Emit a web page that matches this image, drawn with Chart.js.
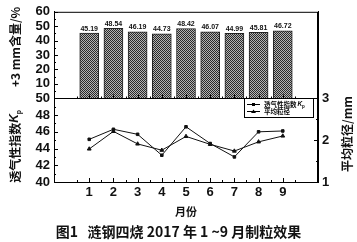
<!DOCTYPE html>
<html>
<head>
<meta charset="utf-8">
<script src="https://cdn.jsdelivr.net/npm/chart.js@4"></script>
<style>
  body { margin: 0; background: #fff; }
  #wrap { position: relative; width: 357px; height: 242px; }
  #caption { position: absolute; left: 0; top: 221px; width: 357px; text-align: center;
    font: bold 14px "Noto Sans CJK SC"; color: #111; white-space: pre; }
</style>
</head>
<body>
<div id="wrap">
  <canvas id="plot" width="357" height="242"></canvas>
  <div id="caption">图1   涟钢四烧 2017 年 1 ~9 月制粒效果</div>
</div>
<script>
// data
const months = [1, 2, 3, 4, 5, 6, 7, 8, 9];
const content = [45.19, 48.54, 46.19, 44.73, 48.42, 46.07, 44.99, 45.81, 46.72];   // +3 mm含量/%
const kp = [45.1, 46.3, 45.7, 43.2, 46.6, 44.6, 43.0, 46.0, 46.1];                  // 透气性指数
const grain = [1.79, 2.21, 1.91, 1.76, 2.09, 1.90, 1.74, 1.96, 2.10];               // 平均粒径/mm

const tickFont = { family: 'Liberation Sans', size: 13, weight: 'bold' };
const cjk = '"Noto Sans CJK SC"';

// dithered fill like the printed bars
const pc = document.createElement('canvas');
pc.width = 2; pc.height = 2;
const pctx = pc.getContext('2d');
pctx.fillStyle = '#b4b4b4'; pctx.fillRect(0, 0, 2, 2);
pctx.fillStyle = '#2a2a2a'; pctx.fillRect(0, 0, 1, 1); pctx.fillRect(1, 1, 1, 1);
const hatch = pctx.createPattern(pc, 'repeat');

const pts = arr => arr.map((v, i) => ({ x: months[i], y: v }));

const decor = {
    id: 'decor',
    afterDraw(chart) {
        const c = chart.ctx, a = chart.chartArea, s = chart.scales;
        c.save();
        c.strokeStyle = '#000';
        c.lineWidth = 1;
        c.strokeRect(a.left + 0.5, a.top + 0.5, a.right - a.left - 1, a.bottom - a.top);
        const mid = Math.round(s.yBar.bottom) + 0.5;
        c.beginPath(); c.moveTo(a.left, mid); c.lineTo(a.right, mid); c.stroke();

        // inward tick marks
        c.beginPath();
        const yTicks = (sc, x0, dir, step) => {
            for (let v = sc.min; v <= sc.max + 1e-9; v += step / 2) {
                const y = Math.round(sc.getPixelForValue(v)) + 0.5;
                const major = Math.abs(v / step - Math.round(v / step)) < 1e-6;
                c.moveTo(x0, y); c.lineTo(x0 + dir * (major ? 4 : 2), y);
            }
        };
        yTicks(s.yBar, a.left, 1, 10);
        yTicks(s.yK, a.left, 1, 2);
        yTicks(s.yD, a.right, -1, 1);
        [a.bottom, mid].forEach(yb => {
            for (let v = 0.5; v <= 9.5; v += 0.5) {
                const x = Math.round(s.x.getPixelForValue(v)) + 0.5;
                const major = Number.isInteger(v);
                c.moveTo(x, yb); c.lineTo(x, yb - (major ? 4 : 2));
            }
        });
        c.stroke();

        // value labels on bars
        c.fillStyle = '#111';
        c.font = 'bold 7px "Liberation Sans"';
        c.textAlign = 'center';
        c.textBaseline = 'bottom';
        chart.getDatasetMeta(0).data.forEach((el, i) => {
            c.fillText(content[i].toFixed(2), el.x, el.y - 1);
        });

        // legend box
        const lx = 244, ly = 98;
        c.strokeRect(lx + 0.5, ly + 0.5, 69, 19);
        const rows = [
            { label: '透气性指数', sub: true, style: 'rect', y: ly + 6.5 },
            { label: chart.data.datasets[2].label, sub: false, style: 'tri', y: ly + 13.5 }
        ];
        rows.forEach(r => {
            c.beginPath(); c.moveTo(lx + 3, r.y); c.lineTo(lx + 16, r.y); c.stroke();
            c.fillStyle = '#000';
            if (r.style === 'rect') c.fillRect(lx + 8, r.y - 1.5, 3, 3);
            else { c.beginPath(); c.moveTo(lx + 9.5, r.y - 2); c.lineTo(lx + 12, r.y + 1.5); c.lineTo(lx + 7, r.y + 1.5); c.closePath(); c.fill(); }
            c.font = 'bold 6.5px ' + cjk;
            c.textAlign = 'left';
            c.textBaseline = 'middle';
            c.fillText(r.label, lx + 20, r.y);
            if (r.sub) {
                const w = c.measureText(r.label).width;
                c.font = 'italic bold 6.5px "Liberation Sans"';
                c.fillText('K', lx + 20 + w + 1, r.y);
                c.font = 'bold 4.5px "Liberation Sans"';
                c.fillText('p', lx + 20 + w + 5.5, r.y + 2);
            }
        });

        // axis titles
        const vtext = (txt, x, y) => {
            c.save(); c.translate(x, y); c.rotate(-Math.PI / 2);
            c.textAlign = 'center'; c.textBaseline = 'middle';
            c.fillText(txt, 0, 0); c.restore();
        };
        c.fillStyle = '#111';
        c.font = 'bold 12px ' + cjk;
        vtext('+3 mm含量/%', 15, 47);
        vtext('平均粒径/mm', 347, 134);
        // 透气性指数 K_p with subscript
        c.save(); c.translate(15, 146); c.rotate(-Math.PI / 2);
        c.textBaseline = 'middle'; c.textAlign = 'left';
        const t1 = '透气性指数';
        c.font = 'bold 12px ' + cjk;
        const w1 = c.measureText(t1).width;
        c.font = 'italic bold 12px "Liberation Sans"';
        const w2 = c.measureText('K').width;
        const x0 = -(w1 + w2 + 5) / 2;
        c.font = 'bold 12px ' + cjk; c.fillText(t1, x0, 0);
        c.font = 'italic bold 12px "Liberation Sans"'; c.fillText('K', x0 + w1, 0);
        c.font = 'bold 7px "Liberation Sans"'; c.fillText('p', x0 + w1 + w2, 4);
        c.restore();
        c.font = 'bold 11px ' + cjk;
        c.textAlign = 'center'; c.textBaseline = 'middle';
        c.fillText('月份', 186, 212);
        c.restore();
    }
};

new Chart(document.getElementById('plot').getContext('2d'), {
    type: 'bar',
    data: {
        datasets: [{
            type: 'bar',
            label: '+3 mm含量',
            data: pts(content),
            yAxisID: 'yBar',
            backgroundColor: hatch,
            borderColor: '#222',
            borderWidth: 1,
            barThickness: 19
        }, {
            type: 'line',
            label: '透气性指数Kp',
            data: pts(kp),
            yAxisID: 'yK',
            borderColor: '#111',
            borderWidth: 1,
            pointStyle: 'rect',
            pointRadius: 1.8,
            pointBackgroundColor: '#111',
            pointBorderColor: '#111',
            fill: false
        }, {
            type: 'line',
            label: '平均粒径',
            data: pts(grain),
            yAxisID: 'yD',
            borderColor: '#111',
            borderWidth: 1,
            pointStyle: 'triangle',
            pointRadius: 2.2,
            pointBackgroundColor: '#111',
            pointBorderColor: '#111',
            fill: false
        }]
    },
    options: {
        responsive: false,
        animation: false,
        layout: { padding: { top: 5, left: 0, right: 0, bottom: 0 } },
        plugins: { legend: { display: false }, tooltip: { enabled: false } },
        scales: {
            x: {
                type: 'linear',
                min: 0.15,
                max: 9.85,
                afterBuildTicks: sc => { sc.ticks = months.map(v => ({ value: v })); },
                afterFit: sc => { sc.height = 60; },
                grid: { display: false, drawTicks: false },
                border: { color: '#000' },
                ticks: { font: tickFont, color: '#111', padding: 3, autoSkip: false }
            },
            yBar: {
                position: 'left', stack: 'left', stackWeight: 90, weight: 1,
                min: 0, max: 60,
                afterFit: sc => { sc.width = 54; },
                grid: { display: false, drawTicks: false },
                border: { color: '#000' },
                ticks: { stepSize: 10, font: tickFont, color: '#111', padding: 4, autoSkip: false,
                    callback: v => (v === 0 ? '' : v) }
            },
            yK: {
                position: 'left', stack: 'left', stackWeight: 87, weight: 0,
                min: 40, max: 50,
                afterFit: sc => { sc.width = 54; },
                grid: { display: false, drawTicks: false },
                border: { color: '#000' },
                ticks: { stepSize: 2, font: tickFont, color: '#111', padding: 4, autoSkip: false }
            },
            yR0: {
                position: 'right', stack: 'right', stackWeight: 90, weight: 0,
                min: 0, max: 1,
                afterFit: sc => { sc.width = 39; },
                grid: { display: false, drawTicks: false },
                border: { color: '#000' },
                ticks: { display: false }
            },
            yD: {
                position: 'right', stack: 'right', stackWeight: 87, weight: 1,
                min: 1, max: 3,
                afterFit: sc => { sc.width = 39; },
                grid: { display: false, drawTicks: false },
                border: { color: '#000' },
                ticks: { stepSize: 1, font: tickFont, color: '#111', padding: 4, autoSkip: false }
            }
        }
    },
    plugins: [decor]
});
</script>
</body>
</html>
